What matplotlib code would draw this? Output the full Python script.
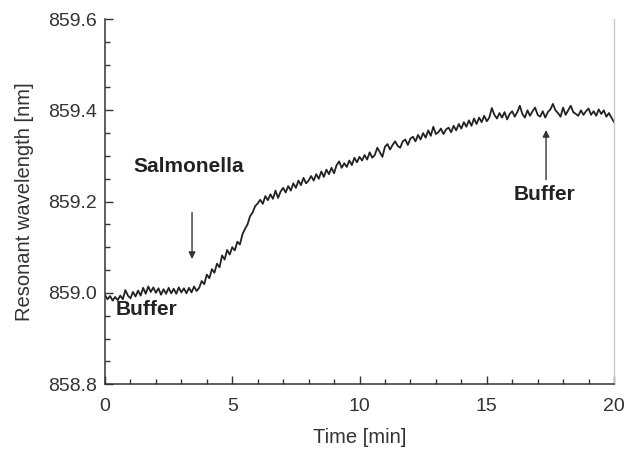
import numpy as np
import matplotlib
matplotlib.use("Agg")
from matplotlib import pyplot as plt
from matplotlib.ticker import MultipleLocator

plt.rcParams['font.family'] = ['Liberation Sans', 'DejaVu Sans']

# sensor reading, one sample every 0.1 min
wavelength = [
    858.995, 858.986, 858.993, 858.983, 858.991, 858.984, 858.994, 858.986, 859.006, 858.994,
    858.988, 859.002, 858.992, 859.005, 858.994, 859.011, 858.998, 859.014, 859.002, 859.012,
    859.000, 859.010, 858.996, 859.008, 858.998, 859.011, 858.999, 859.009, 858.998, 859.012,
    859.001, 859.010, 858.999, 859.011, 859.001, 859.014, 859.004, 859.011, 859.026, 859.019,
    859.040, 859.032, 859.052, 859.044, 859.064, 859.056, 859.082, 859.073, 859.094, 859.084,
    859.100, 859.093, 859.112, 859.106, 859.128, 859.140, 859.150, 859.168, 859.176, 859.190,
    859.196, 859.204, 859.195, 859.212, 859.203, 859.216, 859.206, 859.224, 859.208, 859.222,
    859.230, 859.220, 859.234, 859.224, 859.240, 859.230, 859.246, 859.236, 859.252, 859.240,
    859.246, 859.256, 859.246, 859.260, 859.250, 859.266, 859.254, 859.270, 859.260, 859.274,
    859.262, 859.280, 859.288, 859.274, 859.284, 859.276, 859.290, 859.280, 859.296, 859.286,
    859.298, 859.290, 859.302, 859.292, 859.308, 859.296, 859.302, 859.318, 859.308, 859.298,
    859.320, 859.326, 859.314, 859.324, 859.332, 859.322, 859.318, 859.332, 859.336, 859.324,
    859.338, 859.342, 859.332, 859.346, 859.336, 859.350, 859.340, 859.356, 859.344, 859.364,
    859.348, 859.352, 859.360, 859.348, 859.358, 859.362, 859.352, 859.366, 859.356, 859.370,
    859.360, 859.374, 859.364, 859.378, 859.366, 859.382, 859.370, 859.384, 859.374, 859.388,
    859.376, 859.384, 859.405, 859.390, 859.382, 859.394, 859.384, 859.396, 859.380, 859.392,
    859.398, 859.386, 859.396, 859.410, 859.392, 859.384, 859.400, 859.388, 859.398, 859.406,
    859.390, 859.386, 859.398, 859.384, 859.396, 859.402, 859.414, 859.400, 859.394, 859.386,
    859.406, 859.390, 859.400, 859.410, 859.396, 859.392, 859.388, 859.400, 859.390, 859.398,
    859.404, 859.390, 859.398, 859.388, 859.402, 859.392, 859.400, 859.386, 859.394, 859.384,
    859.374,
]
time_min = np.arange(len(wavelength)) * 0.1

fig = plt.figure(figsize=(6.25, 4.53), dpi=100)
ax = fig.add_axes([0.168, 0.152, 0.8144, 0.806])

ax.plot(time_min, wavelength, color='#222222', lw=1.3)

ax.set_xlim(0, 20)
ax.set_ylim(858.8, 859.6)
ax.xaxis.set_major_locator(MultipleLocator(5))
ax.xaxis.set_minor_locator(MultipleLocator(1))
ax.yaxis.set_major_locator(MultipleLocator(0.2))
ax.yaxis.set_minor_locator(MultipleLocator(0.05))
ax.yaxis.set_major_formatter(plt.FormatStrFormatter('%.1f'))

ax.tick_params(which='both', direction='in', colors='#333333', labelsize=14,
               width=1.0, top=False, right=False)
ax.tick_params(which='major', length=6)
ax.tick_params(which='minor', length=3.5)
ax.tick_params(axis='x', which='major', pad=10)
ax.tick_params(axis='y', which='major', pad=6)
ax.tick_params(axis='both', labelcolor='#333333')

ax.spines['top'].set_visible(False)
ax.spines['right'].set_color('#c8c8c8')
ax.spines['right'].set_linewidth(1.0)
ax.spines['left'].set_linewidth(1.1)
ax.spines['bottom'].set_linewidth(1.1)
ax.spines['left'].set_color('#333333')
ax.spines['bottom'].set_color('#333333')

ax.set_xlabel('Time [min]', fontsize=14.5, color='#333333', labelpad=9)
ax.set_ylabel('Resonant wavelength [nm]', fontsize=14.5, color='#333333', labelpad=10)

# labels and arrows
ax.text(1.1, 859.277, 'Salmonella', fontsize=15, fontweight='bold', color='#222222',
        va='center', ha='left')
ax.text(0.4, 858.963, 'Buffer', fontsize=15, fontweight='bold', color='#222222',
        va='center', ha='left')
ax.text(16.07, 859.215, 'Buffer', fontsize=15, fontweight='bold', color='#222222',
        va='center', ha='left')

arrow = dict(arrowstyle='-|>', color='#333333', lw=1.0, mutation_scale=10)
ax.annotate('', xy=(3.42, 859.068), xytext=(3.42, 859.182), arrowprops=arrow)
ax.annotate('', xy=(17.33, 859.363), xytext=(17.33, 859.242), arrowprops=arrow)

fig.savefig('out.png', dpi=100)
